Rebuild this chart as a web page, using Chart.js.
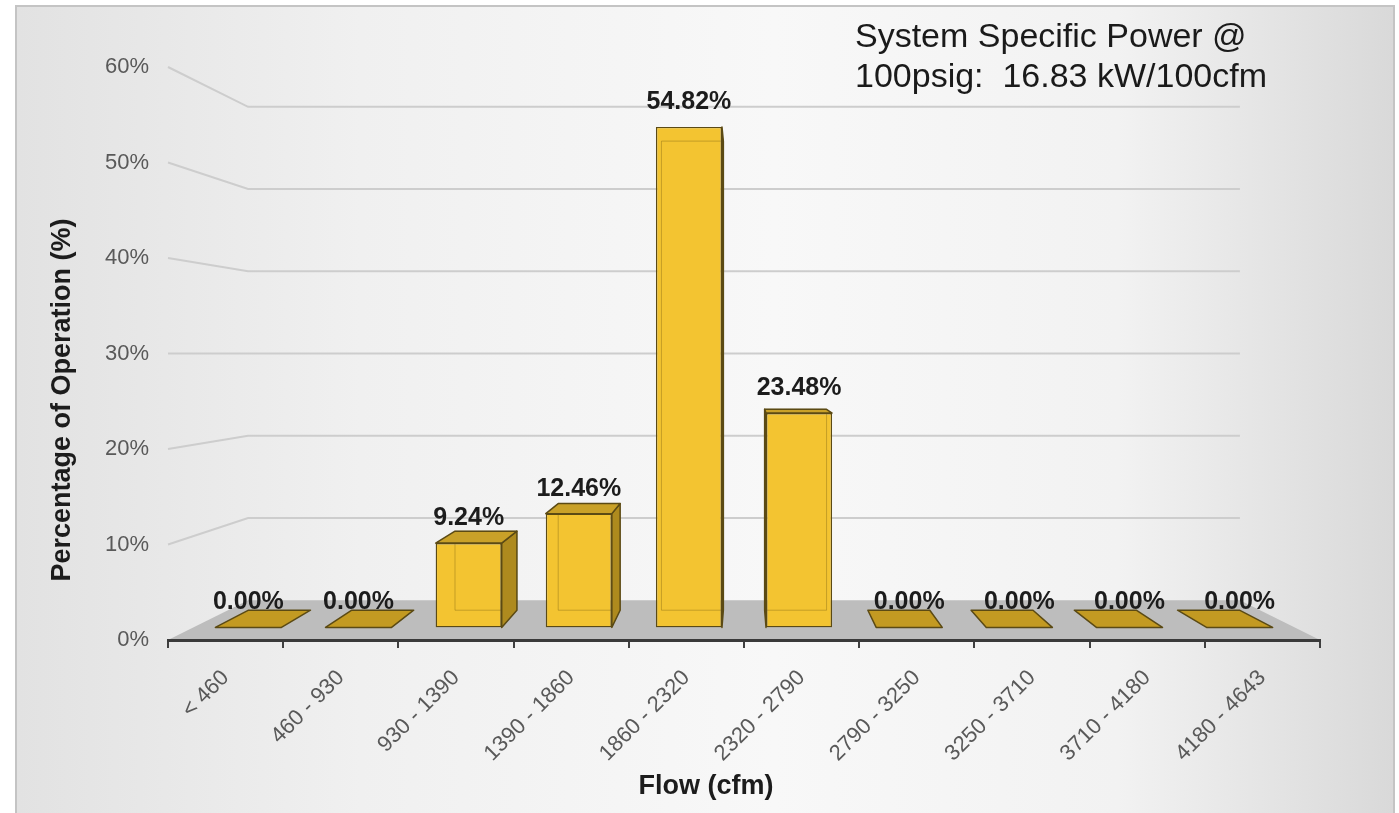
<!DOCTYPE html>
<html>
<head>
<meta charset="utf-8">
<script src="https://cdn.jsdelivr.net/npm/chart.js@4.4.1/dist/chart.umd.min.js"></script>
<style>
  body { margin: 0; background: #ffffff; }
  #frame {
    position: absolute; left: 15px; top: 5px; width: 1376px; height: 830px;
    border: 2px solid #c4c4c4;
    background: linear-gradient(to right, #e2e2e2 0%, #f0f0f0 25%, #f8f8f8 55%, #f2f2f2 80%, #d9d9d9 100%);
  }
  #wrap { position: absolute; left: 0; top: 0; width: 1399px; height: 813px; }
</style>
</head>
<body>
<div id="frame"></div>
<div id="wrap"><canvas id="flowChart"></canvas></div>
<script>
// flow bins (cfm) and share of operating time (%)
const categories = ['< 460', '460 - 930', '930 - 1390', '1390 - 1860', '1860 - 2320',
                    '2320 - 2790', '2790 - 3250', '3250 - 3710', '3710 - 4180', '4180 - 4643'];
const percentOperation = [0, 0, 9.24, 12.46, 54.82, 23.48, 0, 0, 0, 0];
const yTickStep = 10;
const yMax = 60;
const xTitle = 'Flow (cfm)';
const yTitle = 'Percentage of Operation (%)';
const noteLines = ['System Specific Power @', '100psig:  16.83 kW/100cfm'];

const FONT = "'Liberation Sans', Arial, sans-serif";

// perspective factors around the plot centre (1 = front plane)
const K_WALL = 0.861;
const K_BAR_FRONT = 0.956;
const K_BAR_BACK = 0.896;

function proj(a, x, y, k) {
  const cx = (a.left + a.right) / 2, cy = (a.top + a.bottom) / 2;
  return [cx + k * (x - cx), cy + k * (y - cy)];
}

function poly(ctx, pts) {
  ctx.beginPath();
  ctx.moveTo(pts[0][0], pts[0][1]);
  for (let i = 1; i < pts.length; i++) ctx.lineTo(pts[i][0], pts[i][1]);
  ctx.closePath();
}

const box3d = {
  id: 'box3d',
  beforeDraw(chart) {
    const { ctx, chartArea: a, scales: { y } } = chart;
    ctx.save();
    // floor
    poly(ctx, [[a.left, a.bottom], [a.right, a.bottom],
               proj(a, a.right, a.bottom, K_WALL), proj(a, a.left, a.bottom, K_WALL)]);
    ctx.fillStyle = '#bdbdbd';
    ctx.fill();
    // side + back wall gridlines
    ctx.strokeStyle = '#cdcdcd';
    ctx.lineWidth = 2;
    y.ticks.forEach(t => {
      if (t.value === 0) return;
      const py = y.getPixelForValue(t.value);
      const bl = proj(a, a.left, py, K_WALL);
      const br = proj(a, a.right, py, K_WALL);
      ctx.beginPath();
      ctx.moveTo(a.left, py);
      ctx.lineTo(bl[0], bl[1]);
      ctx.lineTo(br[0], br[1]);
      ctx.stroke();
    });
    ctx.restore();
  },
  beforeDatasetsDraw(chart) {
    const { ctx, chartArea: a } = chart;
    const cx = (a.left + a.right) / 2, cy = (a.top + a.bottom) / 2;
    ctx.save();
    ctx.translate(cx, cy);
    ctx.scale(K_BAR_FRONT, K_BAR_FRONT);
    ctx.translate(-cx, -cy);
  },
  afterDatasetsDraw(chart) {
    const { ctx, chartArea: a } = chart;
    ctx.restore();
    const cx = (a.left + a.right) / 2, cy = (a.top + a.bottom) / 2;
    const meta = chart.getDatasetMeta(0);
    ctx.save();
    ctx.lineJoin = 'round';
    meta.data.forEach((bar, i) => {
      const { x, y, base, width } = bar.getProps(['x', 'y', 'base', 'width'], true);
      const l = x - width / 2, r = x + width / 2;
      const fTL = proj(a, l, y, K_BAR_FRONT), fTR = proj(a, r, y, K_BAR_FRONT);
      const fBL = proj(a, l, base, K_BAR_FRONT), fBR = proj(a, r, base, K_BAR_FRONT);
      const bTL = proj(a, l, y, K_BAR_BACK), bTR = proj(a, r, y, K_BAR_BACK);
      const bBL = proj(a, l, base, K_BAR_BACK), bBR = proj(a, r, base, K_BAR_BACK);
      const v = percentOperation[i];

      // hidden back edges seen through the face
      if (v > 0) {
        ctx.strokeStyle = 'rgba(110, 85, 15, 0.35)';
        ctx.lineWidth = 1;
        poly(ctx, [bTL, bTR, bBR, bBL]);
        ctx.stroke();
      }
      ctx.strokeStyle = '#5b4a14';
      ctx.lineWidth = 1.5;
      // side face
      if (v > 0) {
        if (r < cx) {
          poly(ctx, [fTR, bTR, bBR, fBR]);
          ctx.fillStyle = '#ae8a1e';
          ctx.fill(); ctx.stroke();
        } else if (l > cx) {
          poly(ctx, [fTL, bTL, bBL, fBL]);
          ctx.fillStyle = '#ae8a1e';
          ctx.fill(); ctx.stroke();
        }
      }
      // top face
      if (y > cy) {
        poly(ctx, [fTL, fTR, bTR, bTL]);
        ctx.fillStyle = v > 0 ? '#c9a128' : '#c39a22';
        ctx.fill(); ctx.stroke();
      }
      // value label
      ctx.fillStyle = '#1c1c1c';
      ctx.font = 'bold 25px ' + FONT;
      ctx.textAlign = 'center';
      ctx.textBaseline = 'alphabetic';
      const c = proj(a, x, y, K_BAR_FRONT);
      ctx.fillText(v.toFixed(2) + '%', c[0], c[1] - 18);
    });
    ctx.restore();
  },
  afterDraw(chart) {
    const { ctx } = chart;
    ctx.save();
    ctx.fillStyle = '#1c1c1c';
    ctx.font = 'bold 27px ' + FONT;
    ctx.textAlign = 'center';
    ctx.textBaseline = 'middle';
    ctx.fillText(xTitle, 706, 787);
    ctx.translate(63, 400);
    ctx.rotate(-Math.PI / 2);
    ctx.fillText(yTitle, 0, 0);
    ctx.restore();

    ctx.save();
    ctx.fillStyle = '#1a1a1a';
    ctx.font = '34px ' + FONT;
    ctx.textAlign = 'left';
    ctx.textBaseline = 'alphabetic';
    noteLines.forEach((t, i) => ctx.fillText(t, 855, 47 + i * 40));
    ctx.restore();
  }
};

new Chart(document.getElementById('flowChart'), {
  type: 'bar',
  data: {
    labels: categories,
    datasets: [{
      data: percentOperation,
      backgroundColor: '#f3c431',
      borderColor: '#5b4a14',
      borderWidth: 1.5,
      borderSkipped: false,
      barPercentage: 0.6,
      categoryPercentage: 1.0
    }]
  },
  options: {
    responsive: true,
    maintainAspectRatio: false,
    animation: false,
    layout: { padding: { top: 67, right: 79, left: 0, bottom: 0 } },
    plugins: { legend: { display: false }, tooltip: { enabled: false } },
    scales: {
      x: {
        offset: true,
        afterFit: s => { s.height = 173; },
        grid: { display: true, drawOnChartArea: false, drawTicks: true, tickLength: 8,
                color: '#404040', lineWidth: 2, offset: true },
        border: { display: true, color: '#3a3a3a', width: 3 },
        ticks: { color: '#595959', font: { family: FONT, size: 22 },
                 minRotation: 45, maxRotation: 45, padding: 17, autoSkip: false }
      },
      y: {
        min: 0,
        max: yMax,
        afterFit: s => { s.width = 168; },
        grid: { display: false, drawTicks: false },
        border: { display: false },
        ticks: { stepSize: yTickStep, padding: 19, color: '#595959',
                 font: { family: FONT, size: 22 }, callback: v => v + '%' }
      }
    }
  },
  plugins: [box3d]
});
</script>
</body>
</html>
